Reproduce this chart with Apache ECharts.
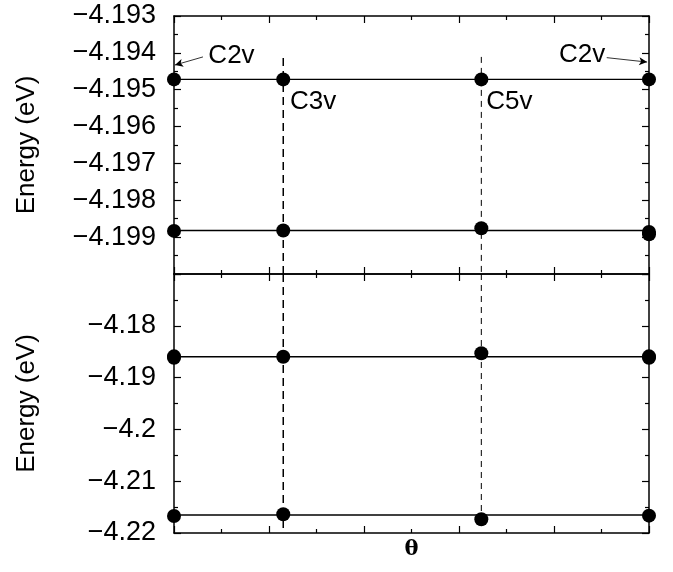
<!DOCTYPE html>
<html><head><meta charset="utf-8">
<script src="https://cdn.jsdelivr.net/npm/echarts@6/dist/echarts.min.js"></script>
<style>html,body{margin:0;background:#fff}#c{width:673px;height:572px}</style>
</head><body><div id="c"></div>
<script>
// ---- data ----
const thetaRange = [0, 10];
const topUpperTheta = [0, 2.3, 6.47, 10];
const topUpperE = [-4.19472, -4.19472, -4.19472, -4.19472];
const topLowerTheta = [0, 2.3, 6.47, 10, 10];
const topLowerE = [-4.19883, -4.19882, -4.19876, -4.19886, -4.19892];
const bottomUpperTheta = [0, 0, 2.3, 6.47, 10, 10];
const bottomUpperE = [-4.18590, -4.18616, -4.18597, -4.18531, -4.18590, -4.18616];
const bottomLowerTheta = [0, 2.3, 6.47, 10];
const bottomLowerE = [-4.21672, -4.21639, -4.21735, -4.21665];
const topLevels = [-4.19472, -4.19882];
const bottomLevels = [-4.18597, -4.21653];
const topTickValues = [-4.199, -4.198, -4.197, -4.196, -4.195, -4.194, -4.193];
const topTickLabels = ['\u22124.199', '\u22124.198', '\u22124.197', '\u22124.196', '\u22124.195', '\u22124.194', '\u22124.193'];
const bottomTickValues = [-4.22, -4.21, -4.2, -4.19, -4.18];
const bottomTickLabels = ['\u22124.22', '\u22124.21', '\u22124.2', '\u22124.19', '\u22124.18'];
// vertical symmetry markers: theta, top-panel span, bottom-panel span
const c3vTheta = 2.3, c3vTopSpan = [-4.19414, -4.2], c3vBottomSpan = [-4.17, -4.21903];
const c5vTheta = 6.47, c5vTopSpan = [-4.19411, -4.2], c5vBottomSpan = [-4.17, -4.2180];
// annotation labels (theta, energy, text)
const annTheta = [1.21, 8.59, 2.93, 7.06];
const annE = [-4.19409, -4.19406, -4.19533, -4.19533];
const annText = ['C2v', 'C2v', 'C3v', 'C5v'];
// arrows from C2v labels to edge points
const arrowFrom = [[0.61, -4.19411], [9.11, -4.19413]];
const arrowTo = [[0.02, -4.19433], [9.96, -4.19425]];

const FONT = 'Liberation Sans, Arial, Helvetica, sans-serif';
const zip = (xs, ys) => xs.map((x, i) => [x, ys[i]]);
const lookup = (vals, labs) => v => { const i = vals.findIndex(t => Math.abs(t - v) < 1e-7); return i >= 0 ? labs[i] : ''; };

function xAx(grid, pos, name) {
  return {
    type: 'value', gridIndex: grid, position: pos, min: thetaRange[0], max: thetaRange[1], interval: 2,
    axisLine: { show: true, onZero: false, lineStyle: { color: '#000', width: 1.5 } },
    axisTick: { show: true, inside: true, length: 7, lineStyle: { color: '#000', width: 1.2 } },
    minorTick: { show: true, splitNumber: 2, length: 4, lineStyle: { color: '#000', width: 1.2 } },
    splitLine: { show: false }, axisLabel: { show: false },
    name: name || '', nameLocation: 'middle', nameGap: 6,
    nameTextStyle: { fontFamily: 'DejaVu Serif, Liberation Serif, serif', fontSize: 21, fontWeight: 'bold', color: '#000' }
  };
}
function yAx(grid, pos, min, max, interval, vals, labs, showName) {
  return {
    type: 'value', gridIndex: grid, position: pos, min: min, max: max, interval: interval,
    axisLine: { show: true, onZero: false, lineStyle: { color: '#000', width: 1.5 } },
    axisTick: { show: true, inside: true, length: 7, lineStyle: { color: '#000', width: 1.2 } },
    minorTick: { show: true, splitNumber: 2, length: 4, lineStyle: { color: '#000', width: 1.2 } },
    splitLine: { show: false },
    axisLabel: { show: !!vals, margin: 18, fontFamily: FONT, fontSize: 27, color: '#000',
      formatter: vals ? lookup(vals, labs) : undefined, showMinLabel: true, showMaxLabel: true },
    name: showName ? 'Energy (eV)' : '', nameLocation: 'middle', nameRotate: 90, nameGap: 134,
    nameTextStyle: { fontFamily: FONT, fontSize: 26, color: '#000' }
  };
}

const dot = (xi, yi, data) => ({ type: 'scatter', xAxisIndex: xi, yAxisIndex: yi, data, symbol: 'circle', symbolSize: 14,
  itemStyle: { color: '#000', opacity: 1 }, clip: false, z: 5 });
const level = (xi, yi, e) => ({ type: 'line', xAxisIndex: xi, yAxisIndex: yi, data: [[thetaRange[0], e], [thetaRange[1], e]],
  showSymbol: false, lineStyle: { color: '#000', width: 1.4 }, z: 3 });
const vline = (xi, yi, x, span, w, dash) => ({ type: 'line', xAxisIndex: xi, yAxisIndex: yi, data: [[x, span[0]], [x, span[1]]],
  showSymbol: false, lineStyle: { color: '#000', width: w, type: dash }, z: 2, clip: false });

const option = {
  animation: false,
  backgroundColor: '#fff',
  grid: [
    { left: 174, top: 16, width: 475, height: 258 },
    { left: 174, top: 274, width: 475, height: 259 }
  ],
  xAxis: [xAx(0, 'bottom'), xAx(0, 'top'), xAx(1, 'bottom', '\u03b8'), xAx(1, 'top')],
  yAxis: [
    yAx(0, 'left', -4.2, -4.193, 0.001, topTickValues, topTickLabels, true),
    yAx(0, 'right', -4.2, -4.193, 0.001),
    yAx(1, 'left', -4.22, -4.17, 0.01, bottomTickValues, bottomTickLabels, true),
    yAx(1, 'right', -4.22, -4.17, 0.01)
  ],
  series: [
    level(0, 0, topLevels[0]), level(0, 0, topLevels[1]),
    level(2, 2, bottomLevels[0]), level(2, 2, bottomLevels[1]),
    vline(0, 0, c3vTheta, c3vTopSpan, 1.5, [8, 5]),
    vline(2, 2, c3vTheta, c3vBottomSpan, 1.5, [8, 5]),
    vline(0, 0, c5vTheta, c5vTopSpan, 1, [6, 5]),
    vline(2, 2, c5vTheta, c5vBottomSpan, 1, [6, 5]),
    dot(0, 0, zip(topUpperTheta, topUpperE)),
    dot(0, 0, zip(topLowerTheta, topLowerE)),
    dot(2, 2, zip(bottomUpperTheta, bottomUpperE)),
    dot(2, 2, zip(bottomLowerTheta, bottomLowerE)),
    {
      type: 'scatter', xAxisIndex: 0, yAxisIndex: 0, symbolSize: 0, z: 6, clip: false,
      itemStyle: { opacity: 1 },
      data: annText.map((t, i) => ({ value: [annTheta[i], annE[i]], name: t })),
      label: { show: true, position: 'inside', formatter: p => p.name, fontFamily: FONT, fontSize: 26, color: '#000' },
      markLine: {
        silent: true, symbol: ['none', 'arrow'], symbolSize: [6, 8],
        lineStyle: { color: '#000', width: 0.8, type: 'solid', opacity: 1 }, label: { show: false },
        data: arrowFrom.map((f, i) => [{ coord: f }, { coord: arrowTo[i] }])
      }
    }
  ]
};
echarts.init(document.getElementById('c'), null, { renderer: 'canvas' }).setOption(option);
</script>
</body></html>
